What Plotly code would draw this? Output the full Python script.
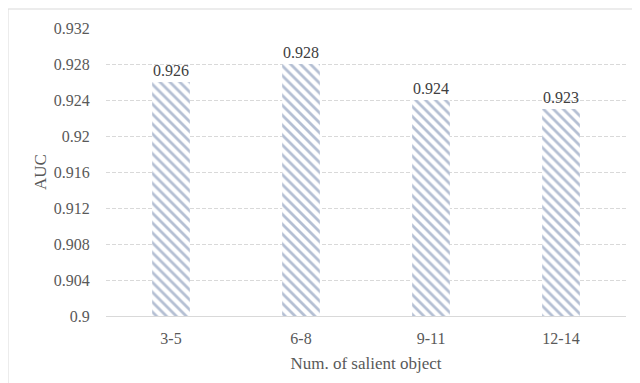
import plotly.graph_objects as go

categories = ["3-5", "6-8", "9-11", "12-14"]
auc = [0.926, 0.928, 0.924, 0.923]
tick_vals = [0.9, 0.904, 0.908, 0.912, 0.916, 0.92, 0.924, 0.928, 0.932]
tick_text = ["0.9", "0.904", "0.908", "0.912", "0.916", "0.92", "0.924", "0.928", "0.932"]

font = "Liberation Serif"

fig = go.Figure()
fig.add_trace(go.Bar(
    x=categories, y=auc,
    width=0.29,
    text=[f"{v:.3f}" for v in auc],
    textposition="outside",
    cliponaxis=False,
    textfont={"family": font, "size": 16, "color": "#404040"},
    marker={
        "color": "white",
        "line": {"width": 0},
        "pattern": {"shape": "\\", "fgcolor": "#6a80a8", "bgcolor": "white",
                    "size": 7, "solidity": 0.4, "fillmode": "overlay"},
    },
))

fig.update_layout(
    width=640, height=383,
    margin={"l": 98, "r": 22, "t": 20, "b": 75},
    paper_bgcolor="white", plot_bgcolor="white",
    showlegend=False,
    font={"family": font, "size": 16, "color": "#595959"},
    xaxis={
        "title": {"text": "Num. of salient object", "font": {"family": font, "size": 17}, "standoff": 10},
        "tickfont": {"family": font, "size": 16, "color": "#595959"},
        "ticks": "outside", "ticklen": 8, "tickcolor": "rgba(0,0,0,0)",
        "showgrid": False, "showline": True, "linecolor": "#d9d9d9", "linewidth": 1,
    },
    yaxis={
        "title": {"text": "AUC", "font": {"family": font, "size": 17}, "standoff": 2},
        "tickfont": {"family": font, "size": 16, "color": "#595959"},
        "ticks": "outside", "ticklen": 12, "tickcolor": "rgba(0,0,0,0)",
        "range": [0.9, 0.932], "tickvals": tick_vals, "ticktext": tick_text,
        "showgrid": True, "gridcolor": "#d9d9d9", "griddash": "4px,2px", "gridwidth": 1,
        "zeroline": False, "showline": False,
    },
    shapes=[{
        "type": "rect", "xref": "paper", "yref": "paper",
        "x0": -98 / 520, "x1": 1 + 21 / 520, "y0": -74 / 288, "y1": 1 + 19 / 288,
        "line": {"color": "#d9d9d9", "width": 1}, "layer": "below",
    }],
)

fig.write_html("out.html")
